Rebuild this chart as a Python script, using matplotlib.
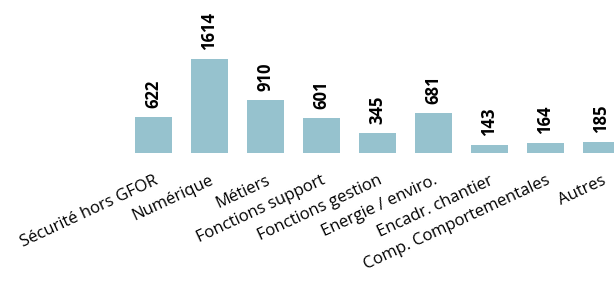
import matplotlib
matplotlib.use('Agg')
import matplotlib.pyplot as plt

categories = ['Sécurité hors GFOR', 'Numérique', 'Métiers', 'Fonctions support',
              'Fonctions gestion', 'Energie / enviro.', 'Encadr. chantier',
              'Comp. Comportementales', 'Autres']
values = [622, 1614, 910, 601, 345, 681, 143, 164, 185]

plt.rcParams['font.family'] = ['Open Sans', 'DejaVu Sans']

fig = plt.figure(figsize=(6.14, 2.81), dpi=100)
ax = fig.add_axes([125.5 / 614, 128 / 281, 504 / 614, 105.3 / 281])

x = range(len(categories))
bars = ax.bar(x, values, width=0.65, color='#96c2ce')

for b, v in zip(bars, values):
    ax.annotate(str(v), (b.get_x() + b.get_width() / 2, v),
                xytext=(0, 6.5), textcoords='offset points',
                rotation=90, ha='center', va='bottom',
                fontsize=12, fontweight='bold', color='black')

ax.set_xlim(-0.5, len(categories) - 0.5)
ax.set_ylim(0, 1800)
ax.set_yticks([])
ax.set_xticks(list(x))
ax.set_xticklabels(categories, rotation=25, ha='right', rotation_mode='anchor',
                   fontsize=12, color='black')
ax.tick_params(axis='x', length=0, pad=14)
for s in ax.spines.values():
    s.set_visible(False)

fig.savefig('out.png', dpi=100)
